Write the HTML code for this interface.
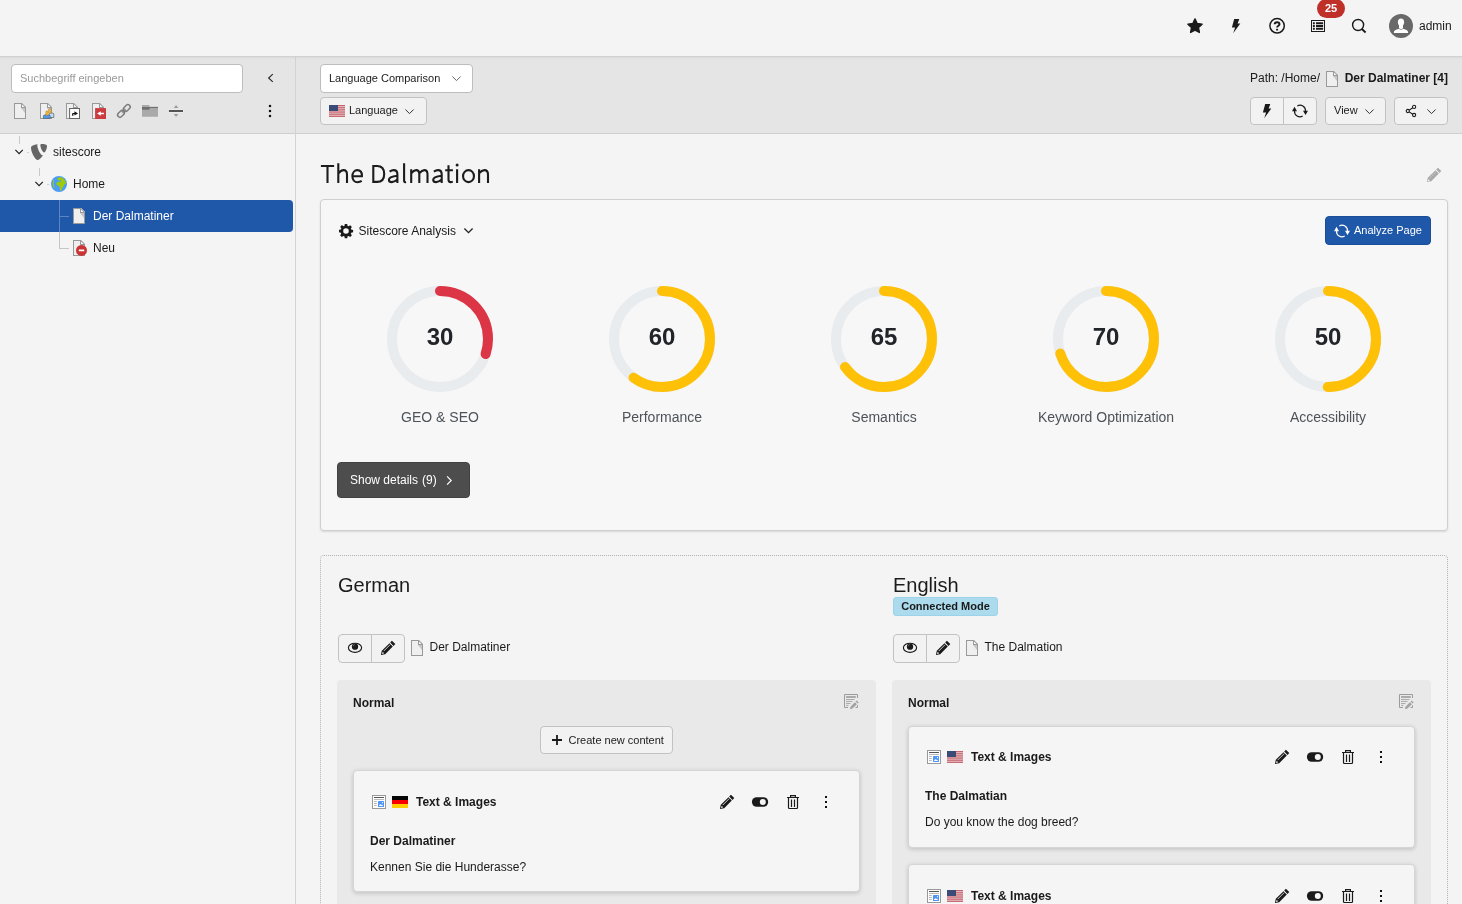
<!DOCTYPE html>
<html><head><meta charset="utf-8">
<style>
*{box-sizing:border-box;margin:0;padding:0}
html,body{width:1462px;height:904px;overflow:hidden}
html{background:#f4f4f4}body{font-family:"Liberation Sans",sans-serif;font-size:12px;color:#1a1a1a;position:relative;will-change:transform}
.abs{position:absolute}
svg{display:block;overflow:visible}
/* topbar */
#topbar{position:absolute;left:0;top:0;width:1462px;height:57px;background:#f4f4f4;border-bottom:1px solid #d1d1d1;box-shadow:0 1px 2px rgba(0,0,0,.05);z-index:5}
.tbi{position:absolute;top:18px;width:16px;height:16px}
#badge{position:absolute;left:1317px;top:-1px;width:28px;height:19px;border-radius:9.5px;background:#bf3029;color:#fff;font-weight:bold;font-size:11px;text-align:center;line-height:18px}
#avatar{position:absolute;left:1389px;top:14px;width:24px;height:24px;border-radius:50%;background:#696969;overflow:hidden}
#admin{position:absolute;left:1419px;top:19px;font-size:12px;line-height:14px;color:#1a1a1a}
/* left */
#nav{position:absolute;left:0;top:57px;width:296px;height:847px;border-right:1px solid #d3d3d3;background:#f4f4f4}
#navtb{position:absolute;left:0;top:0;width:295px;height:77px;background:#e5e5e5;border-bottom:1px solid #cfcfcf}
#search{position:absolute;left:11px;top:7px;width:232px;height:29px;border:1px solid #bdbdbd;border-radius:4px;background:#fff;color:#9a9a9a;font-size:11px;line-height:27px;padding-left:8px}
.ti{position:absolute;top:46px;width:16px;height:16px}
.node{position:absolute;left:0;width:293px;height:32px;line-height:32px;font-size:12px}
.node.sel{background:#1f57a9;color:#fff;border-radius:0 4px 4px 0}
.node span{position:absolute;top:0}
/* content */
#doch{position:absolute;left:296px;top:57px;width:1166px;height:77px;background:#e5e5e5;border-bottom:1px solid #cfcfcf}
.btn{position:absolute;height:28px;border:1px solid #c2c2c2;border-radius:4px;background:#f2f2f2;font-size:11px;line-height:26px;color:#1a1a1a}
h1{position:absolute;left:321px;top:157px;font-weight:normal;font-size:25.500px;letter-spacing:.4px;line-height:34px;color:#1c1c1c;transform-origin:0 50%;white-space:nowrap}
#card{position:absolute;left:320px;top:199px;width:1128px;height:332px;border:1px solid #cfcfcf;border-radius:4px;background:#f7f7f7;box-shadow:0 1px 2px rgba(0,0,0,.12)}
.g{position:absolute;top:86px;width:106px;height:106px}
.gl{position:absolute;top:209px;width:222px;text-align:center;font-size:14px;line-height:16px;color:#4d5359}
.gn{position:absolute;top:123px;width:106px;text-align:center;font-size:24px;line-height:28px;font-weight:bold;color:#212529}
#lang{position:absolute;left:320px;top:555px;width:1128px;height:360px;border:1px dotted #b2b2b2;border-radius:4px}
h2{position:absolute;font-weight:normal;font-size:20px;line-height:24px;color:#1c1c1c}
.col{position:absolute;top:124px;width:539px;height:240px;background:#e9e9e9;border-radius:4px}
.colh{position:absolute;left:16px;top:16px;font-weight:bold;font-size:12px;line-height:14px}
.ce{position:absolute;left:16px;width:507px;height:122px;background:#f5f5f5;border:1px solid #d5d5d5;border-radius:4px;box-shadow:0 2px 4px rgba(0,0,0,.11),0 0 5px rgba(0,0,0,.07)}
.ce b{position:absolute;font-size:12px;line-height:14px}
.ce p{position:absolute;font-size:12px;line-height:14px}
.ce.up>*{margin-top:-1px}
</style></head><body>
<div id="topbar">
<svg class="tbi" style="left:1187px" viewBox="0 0 16 16"><path fill="#1a1a1a" stroke="#1a1a1a" stroke-width="1.400" stroke-linejoin="round" d="M8 .9l2.150 4.600 4.950.650-3.600 3.450.900 4.900L8 12.100l-4.400 2.400.900-4.900L.900 6.150l4.950-.650z"/></svg>
<svg class="tbi" style="left:1228px" viewBox="0 0 16 16"><path fill="#1a1a1a" d="M6.200 1h5.100L9.600 5.500h2.700L5.200 15.300l1.900-5.800H3.900z"/></svg>
<svg class="tbi" style="left:1269px" viewBox="0 0 16 16"><circle cx="8.100" cy="7.800" r="7.200" fill="none" stroke="#1a1a1a" stroke-width="1.500"/><path fill="none" stroke="#1a1a1a" stroke-width="1.900" d="M5.700 6.300c0-1.300 1-2.100 2.400-2.100s2.400.8 2.400 2c0 1.600-2.400 1.500-2.400 3.400"/><rect x="7.100" y="10.700" width="2" height="1.900" rx=".4" fill="#1a1a1a"/></svg>
<svg class="tbi" style="left:1310px" viewBox="0 0 16 16"><path fill="#1a1a1a" d="M1 2v12h14V2zm1 1h12v10H2z"/><path fill="#1a1a1a" d="M2.900 4.200h1.900v2H2.900zM6 4.200h7.100v2H6zM2.900 7h1.900v2H2.900zM6 7h7.100v2H6zM2.900 9.800h1.900v2H2.900zM6 9.800h7.100v2H6z"/></svg>
<svg class="tbi" style="left:1351px" viewBox="0 0 16 16"><circle cx="7.100" cy="7" r="5.500" fill="none" stroke="#1a1a1a" stroke-width="1.400"/><path stroke="#1a1a1a" stroke-width="1.900" d="M10.600 10.800l4 3.700"/></svg>
<div id="badge">25</div>
<div id="avatar"><svg width="24" height="24" viewBox="0 0 24 24"><ellipse cx="12" cy="8.300" rx="3.100" ry="3.700" fill="#fff"/><path fill="#fff" d="M4.800 18.900c0-2.300 1.700-3.200 5.200-4.100V10.500h4v4.300c3.500.9 5.200 1.800 5.200 4.100z"/><path fill="none" stroke="#777" stroke-width=".7" d="M9.900 14.500l2.100 1.200 2.100-1.200"/></svg></div>
<div id="admin">admin</div>
</div>
<div id="nav"><div id="navtb"><div id="search">Suchbegriff eingeben</div>
<svg class="abs" style="left:266px;top:15px" width="10" height="12" viewBox="0 0 10 12"><path fill="none" stroke="#2a2a2a" stroke-width="1.150" d="M6.800 2.100L2.600 6l4.200 3.900"/></svg>
<svg class="ti" style="left:12px" viewBox="0 0 16 16"><path fill="#EFEFEF" d="M2 0v16h12V4l-4-4z"/><path fill="#fff" opacity=".65" d="M10 4V0l4 4z"/><path fill="#212121" opacity=".2" d="M13 5v5L9 5z"/><path fill="#999" d="M2 0v16h12V4l-4-4H2zm1 1h6v4h4v10H3V1zm7 .4L12.600 4H10V1.400z"/></svg>
<svg class="ti" style="left:38px" viewBox="0 0 16 16"><path fill="#EFEFEF" d="M2 0v16h12V4l-4-4z"/><path fill="#fff" opacity=".65" d="M10 4V0l4 4z"/><path fill="#212121" opacity=".2" d="M13 5v5L9 5z"/><path fill="#999" d="M2 0v16h12V4l-4-4H2zm1 1h6v4h4v10H3V1zm7 .4L12.600 4H10V1.400z"/><g stroke="#5a5a5a" stroke-width=".7"><path fill="#b9dcff" d="M11.400 14.500v-3.300c0-.7.500-1.100 1.100-1.100h2.100c.700 0 1.200.5 1.200 1.100v3.300z"/><rect x="10.700" y="5.700" width="2.500" height="4.700" rx="1.200" fill="#fbbb3a" stroke="#9a7a3a" stroke-width=".5"/><path fill="#4f9bf3" d="M5.400 15.400v-2.200c0-.8.600-1.300 1.300-1.300h4.100c.8 0 1.300.6 1.300 1.300v2.200z"/><rect x="7.800" y="7.900" width="2.400" height="4.500" rx="1.150" fill="#fbb832" stroke="#9a7a3a" stroke-width=".5"/></g></svg>
<svg class="ti" style="left:64px" viewBox="0 0 16 16"><path fill="#EFEFEF" d="M2 0v16h12V4l-4-4z"/><path fill="#fff" opacity=".65" d="M10 4V0l4 4z"/><path fill="#212121" opacity=".2" d="M13 5v5L9 5z"/><path fill="#999" d="M2 0v16h12V4l-4-4H2zm1 1h6v4h4v10H3V1zm7 .4L12.600 4H10V1.400z"/><rect x="5.600" y="5.500" width="9.900" height="10" fill="#fff" stroke="#666" stroke-width="1"/><path fill="#111" d="M8.100 12.800v-1.700c0-.7.500-1.100 1.100-1.100h1.200V8.200l3.600 2.200-3.600 2.200V11H9.400v1.800z"/></svg>
<svg class="ti" style="left:90px" viewBox="0 0 16 16"><path fill="#EFEFEF" d="M2 0v16h12V4l-4-4z"/><path fill="#fff" opacity=".65" d="M10 4V0l4 4z"/><path fill="#212121" opacity=".2" d="M13 5v5L9 5z"/><path fill="#999" d="M2 0v16h12V4l-4-4H2zm1 1h6v4h4v10H3V1zm7 .4L12.600 4H10V1.400z"/><rect x="5.100" y="5.100" width="10.900" height="10.900" fill="#cb3a3c"/><path fill="#fff" d="M7.100 10.500l3.700-2.300v1.600h3.100v1.400h-3.100v1.600z"/></svg>
<svg class="ti" style="left:116px" viewBox="0 0 16 16"><path stroke="#9a9a9a" stroke-width="3" d="M6.300 9.700l3.400-3.400"/><g fill="none" stroke="#7d7d7d" stroke-width="1.500"><rect x="7" y="2.700" width="7.600" height="4.600" rx="2.300" transform="rotate(-45 10.800 5)"/><rect x="1.200" y="8.600" width="7.600" height="4.600" rx="2.300" transform="rotate(-45 5 10.900)"/></g></svg>
<svg class="ti" style="left:142px" viewBox="0 0 16 16"><path fill="#a9a9a9" d="M0 2h7l.800 1.800H16v10H0z"/><path fill="#6f6f6f" d="M0 3.900h16V5H8l-.800 1.800H0z"/></svg>
<svg class="ti" style="left:168px" viewBox="0 0 16 16"><rect x=".4" y="6.500" width="15.100" height="3" fill="#f0f0f0"/><rect x=".9" y="7" width="14.100" height="2" fill="#555"/><path fill="#9c9c9c" d="M8.050 2l2.250 2.900H5.800zM8.050 14l2.250-2.900H5.800z"/></svg>
<svg class="abs" style="left:268px;top:47px" width="4" height="14" viewBox="0 0 4 14"><rect x=".9" y=".9" width="2.200" height="2.200" fill="#111"/><rect x=".9" y="5.900" width="2.200" height="2.200" fill="#111"/><rect x=".9" y="10.900" width="2.200" height="2.200" fill="#111"/></svg>
</div>
<div class="abs" style="left:19px;top:79px;width:1px;height:8px;background:#c9c9c9"></div>
<div class="abs" style="left:39px;top:111px;width:1px;height:8px;background:#c9c9c9"></div>
<div class="abs" style="left:27px;top:95px;width:2px;height:1px;background:#d2d2d2"></div>
<div class="abs" style="left:47px;top:127px;width:2px;height:1px;background:#d2d2d2"></div>
<div class="node" style="top:79px"><svg class="abs" style="left:14px;top:10px" width="11" height="12" viewBox="0 0 11 12"><path fill="none" stroke="#222" stroke-width="1.250" d="M1.400 3.900l3.700 3.700 3.700-3.700"/></svg>
<svg class="abs" style="left:31px;top:8px" width="16" height="16" viewBox="0 0 16 16"><path fill="#666" transform="translate(-1.300 -.2) scale(1.090 1.080)" d="M12.300 10.400c-.2.100-.4.100-.6.100-1.900 0-4.700-6.600-4.700-8.800 0-.8.200-1.100.5-1.300C5.200.700 2.400 1.500 1.500 2.600c-.2.300-.3.700-.3 1.200 0 3.400 3.700 11.200 6.300 11.200 1.200 0 3.200-2 4.800-4.600M11.100.3c2.400 0 4.800.4 4.800 1.700 0 2.700-1.700 6-2.600 6-1.600 0-3.500-4.400-3.500-6.600C9.800.4 10.200.3 11.100.3"/></svg>
<span style="left:53px">sitescore</span></div>
<div class="node" style="top:111px"><svg class="abs" style="left:34px;top:10px" width="11" height="12" viewBox="0 0 11 12"><path fill="none" stroke="#222" stroke-width="1.250" d="M1.400 3.900l3.700 3.700 3.700-3.700"/></svg>
<svg class="abs" style="left:51px;top:8px" width="16" height="16" viewBox="0 0 16 16"><circle cx="8" cy="8" r="8" fill="#4b9cf6"/><path fill="#9ccb0a" d="M6.600 1.800l3.600-.5 2.800 1.700 1.700 2.800.1 2.200-1.400.3-.6 1.800-1.700 2.200-.5 2.100H9.200L8.800 11.500 8 9.800 6.200 9.400 5.300 7.900l.6-1.700 1.800-.7 1.700.4 1.300-1.100-2.500-.3-1.600-1zM2.600 3.600l.6.700-.4 1.800-.2 2.200.6 2.300.9 2-1.500-1-.9-2.300L1.600 7l.4-2z"/></svg>
<span style="left:73px">Home</span></div>
<div class="node sel" style="top:143px"><div class="abs" style="left:59px;top:0;width:1px;height:32px;background:#5a84c2"></div><div class="abs" style="left:59px;top:16px;width:10px;height:1px;background:#5a84c2"></div>
<svg class="abs" style="left:71px;top:8px" width="16" height="16" viewBox="0 0 16 16"><path fill="#EFEFEF" d="M2 0v16h12V4l-4-4z"/><path fill="#fff" opacity=".65" d="M10 4V0l4 4z"/><path fill="#212121" opacity=".2" d="M13 5v5L9 5z"/><path fill="#999" d="M2 0v16h12V4l-4-4H2zm1 1h6v4h4v10H3V1zm7 .4L12.600 4H10V1.400z"/></svg>
<span style="left:93px">Der Dalmatiner</span></div>
<div class="node" style="top:175px"><div class="abs" style="left:59px;top:0;width:1px;height:17px;background:#c6c6c6"></div><div class="abs" style="left:59px;top:16px;width:10px;height:1px;background:#c6c6c6"></div>
<svg class="abs" style="left:71px;top:8px;overflow:visible" width="16" height="16" viewBox="0 0 16 16"><path fill="#EFEFEF" d="M2 0v16h12V4l-4-4z"/><path fill="#fff" opacity=".65" d="M10 4V0l4 4z"/><path fill="#212121" opacity=".2" d="M13 5v5L9 5z"/><path fill="#999" d="M2 0v16h12V4l-4-4H2zm1 1h6v4h4v10H3V1zm7 .4L12.600 4H10V1.400z"/><circle cx="10.500" cy="10.400" r="5.500" fill="#cb3434"/><rect x="7.750" y="9.600" width="5.500" height="1.700" rx=".3" fill="#fff"/></svg>
<span style="left:93px">Neu</span></div>
</div>
<div id="doch">
<div class="btn" style="left:24px;top:7px;width:153px;height:29px;background:#fff;border-color:#bdbdbd;padding-left:8px;line-height:27px">Language Comparison<svg class="abs" style="left:130px;top:8px" width="11" height="11" viewBox="0 0 11 11"><path fill="none" stroke="#666" stroke-width="1" d="M1.400 3.500l4.100 4.100L9.600 3.500"/></svg></div>
<div class="btn" style="left:24px;top:40px;width:107px;height:28px;line-height:26px"><svg class="abs" style="left:8px;top:7px" width="16" height="12" viewBox="0 0 16 12"><rect width="16" height="12" fill="#e9c4c6"/><g fill="#c4606b"><rect y="0" width="16" height=".95"/><rect y="1.850" width="16" height=".95"/><rect y="3.700" width="16" height=".95"/><rect y="5.550" width="16" height=".95"/><rect y="7.400" width="16" height=".95"/><rect y="9.250" width="16" height=".95"/><rect y="11.100" width="16" height=".9"/></g><rect width="9" height="6" fill="#3c4a78"/></svg><span class="abs" style="left:28px;top:-1px">Language</span><svg class="abs" style="left:83px;top:8px" width="11" height="11" viewBox="0 0 11 11"><path fill="none" stroke="#333" stroke-width="1" d="M1.400 3.500l4.100 4.100L9.600 3.500"/></svg></div>
<span class="abs" style="left:954px;top:14px;line-height:14px;font-size:12px;white-space:nowrap">Path: /Home/</span><svg class="abs" style="left:1028px;top:14px" width="16" height="16" viewBox="0 0 16 16"><path fill="#EFEFEF" d="M2 0v16h12V4l-4-4z"/><path fill="#fff" opacity=".65" d="M10 4V0l4 4z"/><path fill="#212121" opacity=".2" d="M13 5v5L9 5z"/><path fill="#999" d="M2 0v16h12V4l-4-4H2zm1 1h6v4h4v10H3V1zm7 .4L12.600 4H10V1.400z"/></svg><b class="abs" style="right:14px;top:14px;line-height:14px;font-size:12px;white-space:nowrap">Der Dalmatiner [4]</b>
<div class="btn" style="left:954px;top:40px;width:34px;border-radius:4px 0 0 4px"><svg class="abs" style="left:8px;top:5px" width="16" height="16" viewBox="0 0 16 16"><path fill="#1a1a1a" d="M6.200 1h5.100L9.600 5.500h2.700L5.200 15.300l1.900-5.800H3.900z"/></svg></div>
<div class="btn" style="left:987px;top:40px;width:34px;border-radius:0 4px 4px 0"><svg class="abs" style="left:8px;top:5px" width="16" height="16" viewBox="0 0 16 16"><g fill="none" stroke="#1a1a1a" stroke-width="1.150"><path d="M5.300 2.900A5.500 5.500 0 0 1 13.500 8"/><path d="M2.500 8a5.500 5.500 0 0 0 8.200 5.100"/></g><path fill="#1a1a1a" d="M0 8.300h5L2.500 3.700zM11 7.800h5l-2.500 4.300z"/></svg></div>
<div class="btn" style="left:1029px;top:40px;width:61px"><span class="abs" style="left:8px;top:-1px">View</span><svg class="abs" style="left:37.500px;top:8px" width="11" height="11" viewBox="0 0 11 11"><path fill="none" stroke="#333" stroke-width="1" d="M1.400 3.500l4.100 4.100L9.600 3.500"/></svg></div>
<div class="btn" style="left:1098px;top:40px;width:54px"><svg class="abs" style="left:8px;top:5px" width="16" height="16" viewBox="0 0 16 16"><g fill="none" stroke="#1a1a1a" stroke-width="1.100"><circle cx="11.100" cy="3.900" r="1.600"/><circle cx="11.100" cy="12" r="1.600"/><circle cx="4.800" cy="8" r="1.600"/><path d="M6.200 7.100l3.500-2.300M6.200 8.900l3.500 2.300"/></g></svg><svg class="abs" style="left:31px;top:8px" width="11" height="11" viewBox="0 0 11 11"><path fill="none" stroke="#333" stroke-width="1" d="M1.400 3.500l4.100 4.100L9.600 3.500"/></svg></div>
</div>
<h1 style="visibility:hidden">The Dalmation</h1><svg class="abs" id="h1svg" style="left:316px;top:156px" width="180" height="36" viewBox="316 156 180 36"><path fill="none" stroke="#1c1c1c" stroke-width="2.100" d="M320.9 166H334.1M327.5 166V182.9M338.3 163.2V182.9M338.3 173.5C339.8 171.5 341.8 170.15 343.6 170.15C346.2 170.15 347 171.9 347 174.6V182.9M361.7 180.9C360.4 181.8 359.2 182.2 357.6 182.2C354.5 182.2 352.4 179.7 352.4 176.2C352.4 172.7 354.6 170.15 357.3 170.15C360.2 170.15 361.9 172.3 361.9 175.6V176.3H352.4M373.3 165V182.9M373.3 166H377C381.6 166 384.2 169 384.2 173.9C384.2 178.9 381.6 181.9 377 181.9H373.3M389.60 171.7C390.90 170.75 392.30 170.15 393.70 170.15C396.50 170.15 397.40 172 397.40 174.5V182.9M397.40 175.7C392.00 176.3 388.90 177.3 388.90 179.7C388.90 181.2 390.00 182.15 391.80 182.15C393.70 182.15 395.40 181.2 397.40 179.5M404.1 163.2V180.4C404.1 181.6 404.5 182.1 405.2 182.1C405.45 182.1 405.7 182.05 406 181.95M411.2 169.3V182.9M411.2 173.3C412.7 171.4 414.4 170.15 416.1 170.15C418.5 170.15 419.3 171.8 419.3 174.4V182.9M419.3 173.3C420.9 171.4 422.6 170.15 424.3 170.15C426.7 170.15 427.5 171.8 427.5 174.4V182.9M433.90 171.7C435.20 170.75 436.60 170.15 438.00 170.15C440.80 170.15 441.70 172 441.70 174.5V182.9M441.70 175.7C436.30 176.3 433.20 177.3 433.20 179.7C433.20 181.2 434.30 182.15 436.10 182.15C438.00 182.15 439.70 181.2 441.70 179.5M448.5 165.3V179.6C448.5 181.4 449.2 182.15 450.6 182.15C451.3 182.15 452.1 181.95 452.8 181.65M445.2 170.3H452.9M457.1 169.3V182.9M479.1 169.3V182.9M479.1 173.3C480.7 171.4 482.6 170.15 484.4 170.15C487.1 170.15 488 171.9 488 174.6V182.9"/><ellipse cx="468.500" cy="176.150" rx="5.450" ry="6" fill="none" stroke="#1c1c1c" stroke-width="2.100"/><circle cx="457.100" cy="164.900" r="1.500" fill="#1c1c1c"/></svg>
<svg class="abs" style="left:1426px;top:167px" width="16" height="16" viewBox="0 0 16 16"><path fill="#a9a9a9" d="M11.900.800l3.400 3.300-1.800 1.800-3.300-3.400zM9.500 3.200l3.300 3.300-7.600 7.700-4.300.9.900-4.300z"/><path stroke="#c9c9c9" stroke-width=".8" d="M3.700 11.100l6.500-6.500"/><circle cx="2.600" cy="13.400" r=".9" fill="#f4f4f4"/></svg>
<div id="card">
<svg class="abs" style="left:17px;top:23px" width="16" height="16" viewBox="0 0 16 16"><path fill="#1a1a1a" fill-rule="evenodd" d="M6.800 1h2.400l.4 1.900 1 .4 1.600-1.100 1.700 1.700-1.100 1.600.4 1 1.900.4v2.400l-1.900.4-.4 1 1.100 1.600-1.700 1.700-1.600-1.100-1 .4-.4 1.900H6.800l-.4-1.900-1-.4-1.600 1.100-1.700-1.700 1.100-1.600-.4-1L1 9.200V6.800l1.900-.4.4-1-1.100-1.600 1.700-1.700 1.600 1.100 1-.4zM8 5.200a2.800 2.800 0 1 0 0 5.600 2.800 2.800 0 0 0 0-5.600z"/></svg>
<span class="abs" style="left:37.500px;top:24px;font-size:12px;line-height:14px">Sitescore Analysis</span>
<svg class="abs" style="left:142px;top:25px" width="11" height="11" viewBox="0 0 11 11"><path fill="none" stroke="#222" stroke-width="1.300" d="M1.400 3.500l4.100 4.100L9.600 3.500"/></svg>
<div class="abs" style="left:1004px;top:16px;width:106px;height:29px;border-radius:4px;background:#1f57a9;border:1px solid #1b4e99;color:#fff;font-size:11px;line-height:27px"><svg class="abs" style="left:8px;top:6px" width="16" height="16" viewBox="0 0 16 16"><g fill="none" stroke="#fff" stroke-width="1.150"><path d="M5.300 2.900A5.500 5.500 0 0 1 13.500 8"/><path d="M2.500 8a5.500 5.500 0 0 0 8.200 5.100"/></g><path fill="#fff" d="M0 8.300h5L2.500 3.700zM11 7.800h5l-2.500 4.300z"/></svg><span class="abs" style="left:28px;top:0">Analyze Page</span></div>
<svg class="g" style="left:66px" viewBox="0 0 106 106"><circle cx="53" cy="53" r="48" fill="none" stroke="#e9ecef" stroke-width="10"/><circle cx="53" cy="53" r="48" fill="none" stroke="#dc3545" stroke-width="10" stroke-linecap="round" stroke-dasharray="90.48 301.59" transform="rotate(-90 53 53)"/></svg><div class="gn" style="left:66px">30</div><div class="gl" style="left:8px">GEO &amp; SEO</div>
<svg class="g" style="left:288px" viewBox="0 0 106 106"><circle cx="53" cy="53" r="48" fill="none" stroke="#e9ecef" stroke-width="10"/><circle cx="53" cy="53" r="48" fill="none" stroke="#ffc107" stroke-width="10" stroke-linecap="round" stroke-dasharray="180.96 301.59" transform="rotate(-90 53 53)"/></svg><div class="gn" style="left:288px">60</div><div class="gl" style="left:230px">Performance</div>
<svg class="g" style="left:510px" viewBox="0 0 106 106"><circle cx="53" cy="53" r="48" fill="none" stroke="#e9ecef" stroke-width="10"/><circle cx="53" cy="53" r="48" fill="none" stroke="#ffc107" stroke-width="10" stroke-linecap="round" stroke-dasharray="196.04 301.59" transform="rotate(-90 53 53)"/></svg><div class="gn" style="left:510px">65</div><div class="gl" style="left:452px">Semantics</div>
<svg class="g" style="left:732px" viewBox="0 0 106 106"><circle cx="53" cy="53" r="48" fill="none" stroke="#e9ecef" stroke-width="10"/><circle cx="53" cy="53" r="48" fill="none" stroke="#ffc107" stroke-width="10" stroke-linecap="round" stroke-dasharray="211.12 301.59" transform="rotate(-90 53 53)"/></svg><div class="gn" style="left:732px">70</div><div class="gl" style="left:674px">Keyword Optimization</div>
<svg class="g" style="left:954px" viewBox="0 0 106 106"><circle cx="53" cy="53" r="48" fill="none" stroke="#e9ecef" stroke-width="10"/><circle cx="53" cy="53" r="48" fill="none" stroke="#ffc107" stroke-width="10" stroke-linecap="round" stroke-dasharray="150.80 301.59" transform="rotate(-90 53 53)"/></svg><div class="gn" style="left:954px">50</div><div class="gl" style="left:896px">Accessibility</div>
<div class="abs" style="left:16px;top:262px;width:133px;height:36px;border-radius:4px;background:#4d4d4d;border:1px solid #424242;color:#fff;font-size:12px;line-height:34px"><span class="abs" style="left:12px;top:0;white-space:nowrap">Show details<span style="position:static;margin-left:4px">(9)</span></span><svg class="abs" style="left:107px;top:12px" width="10" height="11" viewBox="0 0 10 11"><path fill="none" stroke="#fff" stroke-width="1.200" d="M2.100 1.400L6.200 5.500 2.100 9.600"/></svg></div>
</div>
<div id="lang">
<h2 style="left:17px;top:17px">German</h2>
<h2 style="left:572px;top:17px">English</h2>
<div class="abs" style="left:572px;top:41px;width:105px;height:19px;border-radius:3px;background:#acdbed;border:1px solid #9cd3e8;font-weight:bold;font-size:11px;line-height:17px;text-align:center;color:#1a1a1a">Connected Mode</div>
<div class="btn" style="left:17px;top:78px;width:34px;height:29px;border-radius:4px 0 0 4px"><svg class="abs" style="left:8px;top:5px" width="16" height="16" viewBox="0 0 16 16"><ellipse cx="8" cy="7.800" rx="6.600" ry="4.600" fill="none" stroke="#1a1a1a" stroke-width="1.150"/><circle cx="8" cy="6.700" r="3.150" fill="#1a1a1a"/><path fill="none" stroke="#8a8a8a" stroke-width=".7" d="M6.200 6.300a1.900 1.900 0 0 1 1.500-1.700"/></svg></div>
<div class="btn" style="left:50px;top:78px;width:34px;height:29px;border-radius:0 4px 4px 0"><svg class="abs" style="left:8px;top:5px" width="16" height="16" viewBox="0 0 16 16"><path fill="#1a1a1a" d="M11.900.800l3.400 3.300-1.800 1.800-3.300-3.400zM9.500 3.200l3.300 3.300-7.600 7.700-4.300.9.900-4.300z"/><path stroke="#f5f5f5" stroke-width=".8" d="M3.700 11.100l6.500-6.500"/><circle cx="2.900" cy="13.100" r=".85" fill="#f5f5f5"/></svg></div>
<svg class="abs" style="left:88px;top:84px" width="16" height="16" viewBox="0 0 16 16"><path fill="#EFEFEF" d="M2 0v16h12V4l-4-4z"/><path fill="#fff" opacity=".65" d="M10 4V0l4 4z"/><path fill="#212121" opacity=".2" d="M13 5v5L9 5z"/><path fill="#999" d="M2 0v16h12V4l-4-4H2zm1 1h6v4h4v10H3V1zm7 .4L12.600 4H10V1.400z"/></svg><span class="abs" style="left:108.500px;top:84px;line-height:14px">Der Dalmatiner</span>
<div class="btn" style="left:572px;top:78px;width:34px;height:29px;border-radius:4px 0 0 4px"><svg class="abs" style="left:8px;top:5px" width="16" height="16" viewBox="0 0 16 16"><ellipse cx="8" cy="7.800" rx="6.600" ry="4.600" fill="none" stroke="#1a1a1a" stroke-width="1.150"/><circle cx="8" cy="6.700" r="3.150" fill="#1a1a1a"/><path fill="none" stroke="#8a8a8a" stroke-width=".7" d="M6.200 6.300a1.900 1.900 0 0 1 1.500-1.700"/></svg></div>
<div class="btn" style="left:605px;top:78px;width:34px;height:29px;border-radius:0 4px 4px 0"><svg class="abs" style="left:8px;top:5px" width="16" height="16" viewBox="0 0 16 16"><path fill="#1a1a1a" d="M11.900.800l3.400 3.300-1.800 1.800-3.300-3.400zM9.500 3.200l3.300 3.300-7.600 7.700-4.300.9.900-4.300z"/><path stroke="#f5f5f5" stroke-width=".8" d="M3.700 11.100l6.500-6.500"/><circle cx="2.900" cy="13.100" r=".85" fill="#f5f5f5"/></svg></div>
<svg class="abs" style="left:643px;top:84px" width="16" height="16" viewBox="0 0 16 16"><path fill="#EFEFEF" d="M2 0v16h12V4l-4-4z"/><path fill="#fff" opacity=".65" d="M10 4V0l4 4z"/><path fill="#212121" opacity=".2" d="M13 5v5L9 5z"/><path fill="#999" d="M2 0v16h12V4l-4-4H2zm1 1h6v4h4v10H3V1zm7 .4L12.600 4H10V1.400z"/></svg><span class="abs" style="left:663.500px;top:84px;line-height:14px">The Dalmation</span>
<div class="col" style="left:16px"><div class="colh">Normal</div><svg class="abs" style="left:506px;top:13px" width="16" height="16" viewBox="0 0 16 16"><g fill="none" stroke="#9b9b9b"><path stroke-width="1" d="M14.500 5V1.500H1.500v13H5M12.500 14.500h2v-2.300"/><path stroke-width="1.600" d="M3 4h9.800"/><path stroke-width=".8" d="M3 6.500h8.500M3 8.450h6.500M3 10.500h4.500M3 12.400h2.500"/></g><path stroke="#e9e9e9" stroke-width="4.200" stroke-linecap="square" d="M8.500 14.300l6-6"/><path fill="#a2a2a2" d="M13.700 7.400l2 2-1.100 1.100-2-2zM11.900 9.200l2 2-4.500 4.400-2.500.6.600-2.500z"/></svg>
<div class="btn" style="left:203px;top:46px;width:133px;height:28px"><svg class="abs" style="left:10px;top:7px" width="12" height="12" viewBox="0 0 12 12"><path stroke="#1a1a1a" stroke-width="1.800" d="M6 1v10M1 6h10"/></svg><span class="abs" style="left:27.500px;top:0">Create new content</span></div>
<div class="ce" style="top:90px">
<svg class="abs" style="left:17px;top:23px" width="16" height="16" viewBox="0 0 16 16"><rect x="1.500" y="1.500" width="13" height="13" fill="#fff" stroke="#999"/><path stroke="#555" stroke-width="1" d="M3 3.500h10"/><path stroke="#b0b0b0" stroke-width=".9" d="M3 5.500h10M3 7.500h2.800M3 9.500h2.800M3 11.450h2.800"/><rect x="7" y="7" width="6" height="6" rx=".4" fill="#4d94fb"/><path fill="#fff" d="M7.800 11.900l1.500-1.800.9.800.6-.4 1.400 1.400z"/><circle cx="11.500" cy="8.700" r=".6" fill="#fff"/></svg>
<svg class="abs" style="left:38px;top:25px" width="16" height="12" viewBox="0 0 16 12"><rect width="16" height="4" fill="#050505"/><rect y="4" width="16" height="4" fill="#f80000"/><rect y="8" width="16" height="4" fill="#ffce00"/></svg>
<b style="left:62px;top:24px">Text &amp; Images</b>
<svg class="abs" style="left:365px;top:23px" width="16" height="16" viewBox="0 0 16 16"><path fill="#1a1a1a" d="M11.900.800l3.400 3.300-1.800 1.800-3.300-3.400zM9.500 3.200l3.300 3.300-7.600 7.700-4.300.9.900-4.300z"/><path stroke="#f5f5f5" stroke-width=".8" d="M3.700 11.100l6.500-6.500"/><circle cx="2.900" cy="13.100" r=".85" fill="#f5f5f5"/></svg>
<svg class="abs" style="left:398px;top:23px" width="16" height="16" viewBox="0 0 16 16"><rect x="-.1" y="3.150" width="16.300" height="9.700" rx="4.850" fill="#1a1a1a"/><circle cx="10.800" cy="8" r="3" fill="#f5f5f5"/></svg>
<svg class="abs" style="left:431px;top:23px" width="16" height="16" viewBox="0 0 16 16"><g fill="none" stroke="#1a1a1a" stroke-width="1.200"><path d="M2 3.500h12M5.600 3.400V1.600h4.800v1.800M3.500 3.500v10.100c0 .5.400.9.900.9h7.200c.5 0 .9-.4.900-.9V3.500M6.500 5.400V13M9.500 5.400V13"/></g></svg>
<svg class="abs" style="left:470px;top:24px" width="4" height="14" viewBox="0 0 4 14"><rect x="1" y="1" width="2" height="2" fill="#111"/><rect x="1" y="6" width="2" height="2" fill="#111"/><rect x="1" y="11" width="2" height="2" fill="#111"/></svg>
<b style="left:16px;top:63px">Der Dalmatiner</b><p style="left:16px;top:89px">Kennen Sie die Hunderasse?</p></div>
</div>
<div class="col" style="left:571px"><div class="colh">Normal</div><svg class="abs" style="left:506px;top:13px" width="16" height="16" viewBox="0 0 16 16"><g fill="none" stroke="#9b9b9b"><path stroke-width="1" d="M14.500 5V1.500H1.500v13H5M12.500 14.500h2v-2.300"/><path stroke-width="1.600" d="M3 4h9.800"/><path stroke-width=".8" d="M3 6.500h8.500M3 8.450h6.500M3 10.500h4.500M3 12.400h2.500"/></g><path stroke="#e9e9e9" stroke-width="4.200" stroke-linecap="square" d="M8.500 14.300l6-6"/><path fill="#a2a2a2" d="M13.700 7.400l2 2-1.100 1.100-2-2zM11.900 9.200l2 2-4.500 4.400-2.500.6.600-2.500z"/></svg>
<div class="ce up" style="top:46px;height:122px">
<svg class="abs" style="left:17px;top:23px" width="16" height="16" viewBox="0 0 16 16"><rect x="1.500" y="1.500" width="13" height="13" fill="#fff" stroke="#999"/><path stroke="#555" stroke-width="1" d="M3 3.500h10"/><path stroke="#b0b0b0" stroke-width=".9" d="M3 5.500h10M3 7.500h2.800M3 9.500h2.800M3 11.450h2.800"/><rect x="7" y="7" width="6" height="6" rx=".4" fill="#4d94fb"/><path fill="#fff" d="M7.800 11.900l1.500-1.800.9.800.6-.4 1.400 1.400z"/><circle cx="11.500" cy="8.700" r=".6" fill="#fff"/></svg>
<svg class="abs" style="left:38px;top:25px" width="16" height="12" viewBox="0 0 16 12"><rect width="16" height="12" fill="#e9c4c6"/><g fill="#c4606b"><rect y="0" width="16" height=".95"/><rect y="1.850" width="16" height=".95"/><rect y="3.700" width="16" height=".95"/><rect y="5.550" width="16" height=".95"/><rect y="7.400" width="16" height=".95"/><rect y="9.250" width="16" height=".95"/><rect y="11.100" width="16" height=".9"/></g><rect width="9" height="6" fill="#3c4a78"/></svg>
<b style="left:62px;top:24px">Text &amp; Images</b>
<svg class="abs" style="left:365px;top:23px" width="16" height="16" viewBox="0 0 16 16"><path fill="#1a1a1a" d="M11.900.800l3.400 3.300-1.800 1.800-3.300-3.400zM9.500 3.200l3.300 3.300-7.600 7.700-4.300.9.900-4.300z"/><path stroke="#f5f5f5" stroke-width=".8" d="M3.700 11.100l6.500-6.500"/><circle cx="2.900" cy="13.100" r=".85" fill="#f5f5f5"/></svg>
<svg class="abs" style="left:398px;top:23px" width="16" height="16" viewBox="0 0 16 16"><rect x="-.1" y="3.150" width="16.300" height="9.700" rx="4.850" fill="#1a1a1a"/><circle cx="10.800" cy="8" r="3" fill="#f5f5f5"/></svg>
<svg class="abs" style="left:431px;top:23px" width="16" height="16" viewBox="0 0 16 16"><g fill="none" stroke="#1a1a1a" stroke-width="1.200"><path d="M2 3.500h12M5.600 3.400V1.600h4.800v1.800M3.500 3.500v10.100c0 .5.400.9.900.9h7.200c.5 0 .9-.4.900-.9V3.500M6.500 5.400V13M9.500 5.400V13"/></g></svg>
<svg class="abs" style="left:470px;top:24px" width="4" height="14" viewBox="0 0 4 14"><rect x="1" y="1" width="2" height="2" fill="#111"/><rect x="1" y="6" width="2" height="2" fill="#111"/><rect x="1" y="11" width="2" height="2" fill="#111"/></svg>
<b style="left:16px;top:63px">The Dalmatian</b><p style="left:16px;top:89px">Do you know the dog breed?</p></div>
<div class="ce" style="top:184px">
<svg class="abs" style="left:17px;top:23px" width="16" height="16" viewBox="0 0 16 16"><rect x="1.500" y="1.500" width="13" height="13" fill="#fff" stroke="#999"/><path stroke="#555" stroke-width="1" d="M3 3.500h10"/><path stroke="#b0b0b0" stroke-width=".9" d="M3 5.500h10M3 7.500h2.800M3 9.500h2.800M3 11.450h2.800"/><rect x="7" y="7" width="6" height="6" rx=".4" fill="#4d94fb"/><path fill="#fff" d="M7.800 11.900l1.500-1.800.9.800.6-.4 1.400 1.400z"/><circle cx="11.500" cy="8.700" r=".6" fill="#fff"/></svg>
<svg class="abs" style="left:38px;top:25px" width="16" height="12" viewBox="0 0 16 12"><rect width="16" height="12" fill="#e9c4c6"/><g fill="#c4606b"><rect y="0" width="16" height=".95"/><rect y="1.850" width="16" height=".95"/><rect y="3.700" width="16" height=".95"/><rect y="5.550" width="16" height=".95"/><rect y="7.400" width="16" height=".95"/><rect y="9.250" width="16" height=".95"/><rect y="11.100" width="16" height=".9"/></g><rect width="9" height="6" fill="#3c4a78"/></svg>
<b style="left:62px;top:24px">Text &amp; Images</b>
<svg class="abs" style="left:365px;top:23px" width="16" height="16" viewBox="0 0 16 16"><path fill="#1a1a1a" d="M11.900.800l3.400 3.300-1.800 1.800-3.300-3.400zM9.500 3.200l3.300 3.300-7.600 7.700-4.300.9.900-4.300z"/><path stroke="#f5f5f5" stroke-width=".8" d="M3.700 11.100l6.500-6.500"/><circle cx="2.900" cy="13.100" r=".85" fill="#f5f5f5"/></svg>
<svg class="abs" style="left:398px;top:23px" width="16" height="16" viewBox="0 0 16 16"><rect x="-.1" y="3.150" width="16.300" height="9.700" rx="4.850" fill="#1a1a1a"/><circle cx="10.800" cy="8" r="3" fill="#f5f5f5"/></svg>
<svg class="abs" style="left:431px;top:23px" width="16" height="16" viewBox="0 0 16 16"><g fill="none" stroke="#1a1a1a" stroke-width="1.200"><path d="M2 3.500h12M5.600 3.400V1.600h4.800v1.800M3.500 3.500v10.100c0 .5.400.9.900.9h7.200c.5 0 .9-.4.900-.9V3.500M6.500 5.400V13M9.500 5.400V13"/></g></svg>
<svg class="abs" style="left:470px;top:24px" width="4" height="14" viewBox="0 0 4 14"><rect x="1" y="1" width="2" height="2" fill="#111"/><rect x="1" y="6" width="2" height="2" fill="#111"/><rect x="1" y="11" width="2" height="2" fill="#111"/></svg>
<b style="left:16px;top:63px"></b><p style="left:16px;top:89px"></p></div>
</div>
</div>
</body></html>
